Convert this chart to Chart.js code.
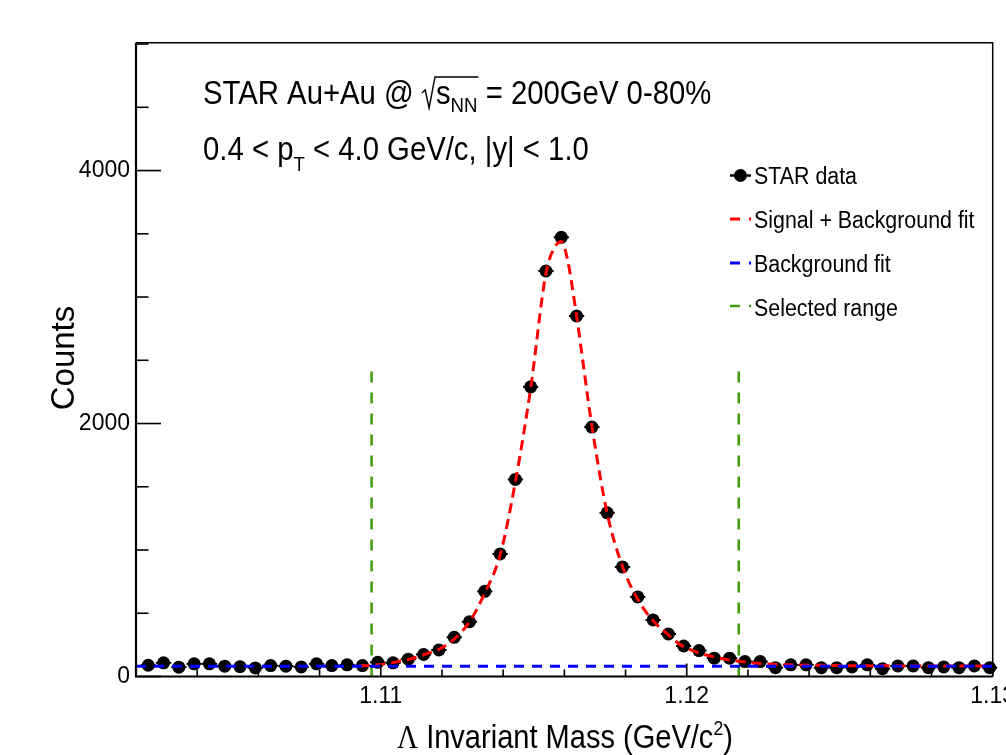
<!DOCTYPE html>
<html><head><meta charset="utf-8">
<script src="https://cdn.jsdelivr.net/npm/chart.js@4.4.0/dist/chart.umd.min.js"></script>
<style>html,body{margin:0;padding:0;background:#fff;overflow:hidden}#wrap{width:1006px;height:755px}</style>
</head><body><div id="wrap"><canvas id="c" width="1006" height="755"></canvas></div>
<script>
// ---- data ----
const massBins = [1.1024,1.1029,1.1034,1.1039,1.1044,1.1049,1.1054,1.1059,1.1064,1.1069,1.1074,1.1079,1.1084,1.1089,1.1094,1.1099,1.1104,1.1109,1.1114,1.1119,1.1124,1.1129,1.1134,1.1139,1.1144,1.1149,1.1154,1.1159,1.1164,1.1169,1.1174,1.1179,1.1184,1.1189,1.1194,1.1199,1.1204,1.1209,1.1214,1.1219,1.1224,1.1229,1.1234,1.1239,1.1244,1.1249,1.1254,1.1259,1.1264,1.1269,1.1274,1.1279,1.1284,1.1289,1.1294,1.1299];
const counts = [89,108,74,100,100,82,78,68,86,82,76,100,86,92,86,112,108,137,174,210,310,433,673,969,1558,2290,3206,3472,2850,1972,1294,866,629,447,336,241,205,145,145,118,118,70,92,92,70,70,76,92,62,84,84,70,76,70,84,70];
const binHalfWidth = 0.00025;
const fitMass = [1.1093,1.1100,1.1105,1.1110,1.1114,1.1119,1.1124,1.1129,1.1134,1.1139,1.1144,1.1149,1.1154,1.1157,1.1159,1.1161,1.1164,1.1169,1.1174,1.1179,1.1184,1.1189,1.1194,1.1198,1.1203,1.1208,1.1213,1.1218,1.1223,1.1230,1.1244,1.1270,1.1300];
const fitCounts = [85,95,115,140,172,215,295,432,660,960,1540,2280,3190,3400,3440,3300,2850,1980,1290,870,610,440,330,250,195,160,135,118,105,95,88,84,82];
const bgMass = [1.102, 1.130];
const bgCounts = [82, 82];
const rangeEdges = [1.1097, 1.1217];
const rangeCounts = [0, 2420];
const xMajorTicks = [1.11, 1.12, 1.13];
const xMinorTicks = [1.104,1.106,1.108,1.112,1.114,1.116,1.118,1.122,1.124,1.126,1.128];
const yMajorTicks = [0, 2000, 4000];
const yMinorTicks = [500,1000,1500,2500,3000,3500,4500,5000];
const labels = ['STAR data','Signal + Background fit','Background fit','Selected range'];

const FONT = "'Liberation Sans', Arial, Helvetica, sans-serif";
const SERIF = "'Liberation Serif', 'Times New Roman', serif";
const RED='#ff0000', BLUE='#0000ff', GREEN='#3c9c0a';

function pts(xs, ys){ return xs.map((x,i)=>({x:x,y:ys[i]})); }

function drawParts(ctx, x, y, parts, hs){
  ctx.save(); ctx.translate(x,y); ctx.scale(hs,1);
  ctx.fillStyle='#000'; ctx.strokeStyle='#000'; ctx.textBaseline='alphabetic'; ctx.textAlign='left';
  let cx=0; let sqrtStart=null;
  for(const p of parts){
    if(p.sqrt){ sqrtStart=cx; cx += p.w/hs; continue; }
    ctx.font = p.size+'px '+(p.family||FONT);
    ctx.fillText(p.t, cx, p.dy||0);
    cx += ctx.measureText(p.t).width;
    if(p.endSqrt && sqrtStart!==null){
      ctx.lineWidth=1.6; ctx.beginPath();
      const s=sqrtStart, w=13/hs;
      ctx.moveTo(s, -11); ctx.lineTo(s+0.25*w, -14); ctx.lineTo(s+0.55*w, 4); ctx.lineTo(s+w, -27); ctx.lineTo(cx+1, -27);
      ctx.stroke(); sqrtStart=null;
    }
  }
  ctx.restore();
}

const decor = {
  id:'decor',
  afterDatasetDraw(chart, args){
    if(args.index!==0) return;
    const {ctx, scales:{x,y}} = chart;
    ctx.save(); ctx.strokeStyle='#000'; ctx.lineWidth=2;
    massBins.forEach((m,i)=>{
      const py=y.getPixelForValue(counts[i]);
      ctx.beginPath(); ctx.moveTo(x.getPixelForValue(m-binHalfWidth),py); ctx.lineTo(x.getPixelForValue(m+binHalfWidth),py); ctx.stroke();
    });
    ctx.restore();
  },
  afterDraw(chart){
    const {ctx, chartArea:a, scales:{x,y}} = chart;
    ctx.save();
    ctx.strokeStyle='#000';
    // frame
    ctx.lineWidth=1.5;
    ctx.beginPath(); ctx.moveTo(a.left,a.top); ctx.lineTo(a.right,a.top); ctx.lineTo(a.right,a.bottom); ctx.stroke();
    ctx.lineWidth=2.2;
    ctx.beginPath(); ctx.moveTo(a.left,a.top); ctx.lineTo(a.left,a.bottom); ctx.lineTo(a.right,a.bottom); ctx.stroke();
    // ticks
    ctx.lineWidth=1.6;
    yMajorTicks.forEach(v=>{const p=y.getPixelForValue(v); ctx.beginPath(); ctx.moveTo(a.left,p); ctx.lineTo(a.left+25,p); ctx.stroke();});
    yMinorTicks.forEach(v=>{const p=y.getPixelForValue(v); ctx.beginPath(); ctx.moveTo(a.left,p); ctx.lineTo(a.left+12.5,p); ctx.stroke();});
    xMajorTicks.forEach(v=>{const p=x.getPixelForValue(v); ctx.beginPath(); ctx.moveTo(p,a.bottom); ctx.lineTo(p,a.bottom-13); ctx.stroke();});
    xMinorTicks.forEach(v=>{const p=x.getPixelForValue(v); ctx.beginPath(); ctx.moveTo(p,a.bottom); ctx.lineTo(p,a.bottom-7); ctx.stroke();});
    // legend
    const ly=[175.5,219,263,306], lb=[184,227.5,272,315.5];
    const ds=chart.data.datasets;
    for(let i=0;i<4;i++){
      const d=ds[i];
      ctx.save();
      if(i===0){
        ctx.strokeStyle='#000'; ctx.lineWidth=2.5; ctx.beginPath(); ctx.moveTo(730,ly[i]); ctx.lineTo(751,ly[i]); ctx.stroke();
        ctx.fillStyle='#000'; ctx.beginPath(); ctx.arc(740.5,ly[i],6.5,0,Math.PI*2); ctx.fill();
      } else {
        ctx.strokeStyle=d.borderColor; ctx.lineWidth=d.borderWidth; ctx.setLineDash([10,9]);
        ctx.beginPath(); ctx.moveTo(730,ly[i]); ctx.lineTo(751,ly[i]); ctx.stroke();
      }
      ctx.restore();
      drawParts(ctx, 754, lb[i], [{t:d.label,size:23.5}], 0.91);
    }
    // title lines
    drawParts(ctx, 203, 104, [
      {t:'STAR Au+Au @ ',size:33},{sqrt:true,w:14},{t:'s',size:33},{t:'NN',size:21,dy:8,endSqrt:true},{t:' = 200GeV 0-80%',size:33}
    ], 0.888);
    drawParts(ctx, 203, 160, [
      {t:'0.4 < p',size:33},{t:'T',size:21,dy:11},{t:' < 4.0 GeV/c, |y| < 1.0',size:33}
    ], 0.888);
    // axis titles
    drawParts(ctx, 397, 748, [
      {t:'\u039B',size:33,family:SERIF},{t:' Invariant Mass (GeV/c',size:33},{t:'2',size:20,dy:-13},{t:')',size:33}
    ], 0.88);
    ctx.save(); ctx.translate(74,358); ctx.rotate(-Math.PI/2);
    ctx.font='33px '+FONT; ctx.fillStyle='#000'; ctx.textAlign='center'; ctx.textBaseline='alphabetic';
    ctx.fillText('Counts',0,0); ctx.restore();
    ctx.restore();
  }
};

new Chart(document.getElementById('c'), {
  type:'scatter',
  data:{datasets:[
    {label:labels[0], data:pts(massBins,counts), showLine:false, pointRadius:6.5, pointHoverRadius:6.5, pointBackgroundColor:'#000', pointBorderColor:'#000', pointBorderWidth:0, order:4, clip:false},
    {label:labels[1], data:pts(fitMass,fitCounts), showLine:true, borderColor:RED, borderWidth:3, borderDash:[10,6], pointRadius:0, cubicInterpolationMode:'monotone', order:2},
    {label:labels[2], data:pts(bgMass,bgCounts), showLine:true, borderColor:BLUE, borderWidth:3, borderDash:[10,8], pointRadius:0, order:1},
    {label:labels[3], data:rangeCounts.map(c=>({x:rangeEdges[0],y:c})), showLine:true, borderColor:GREEN, borderWidth:2.5, borderDash:[11,10], pointRadius:0, order:3},
    {label:labels[3], data:rangeCounts.map(c=>({x:rangeEdges[1],y:c})), showLine:true, borderColor:GREEN, borderWidth:2.5, borderDash:[11,10], pointRadius:0, order:3}
  ]},
  options:{
    responsive:false, animation:false, devicePixelRatio:1,
    layout:{padding:{top:42.8,right:13.3,left:0,bottom:0}},
    plugins:{legend:{display:false},tooltip:{enabled:false}},
    events:[],
    scales:{
      x:{type:'linear',min:1.102,max:1.13,
        grid:{display:false,drawTicks:false},border:{display:false},
        ticks:{font:{family:FONT,size:23},color:'#000',padding:6,maxRotation:0,autoSkip:false,callback:v=>Number(v).toFixed(2)},
        afterBuildTicks:s=>{s.ticks=xMajorTicks.map(v=>({value:v}));},
        afterFit:s=>{s.height=78.5;s.paddingLeft=0;s.paddingRight=0;}},
      y:{type:'linear',min:0,max:5010,
        grid:{display:false,drawTicks:false},border:{display:false},
        ticks:{font:{family:FONT,size:23},color:'#000',padding:6,autoSkip:false,callback:v=>String(v)},
        afterBuildTicks:s=>{s.ticks=yMajorTicks.map(v=>({value:v}));},
        afterFit:s=>{s.width=136;s.paddingTop=0;s.paddingBottom=0;}}
    }
  },
  plugins:[decor]
});
</script></body></html>
